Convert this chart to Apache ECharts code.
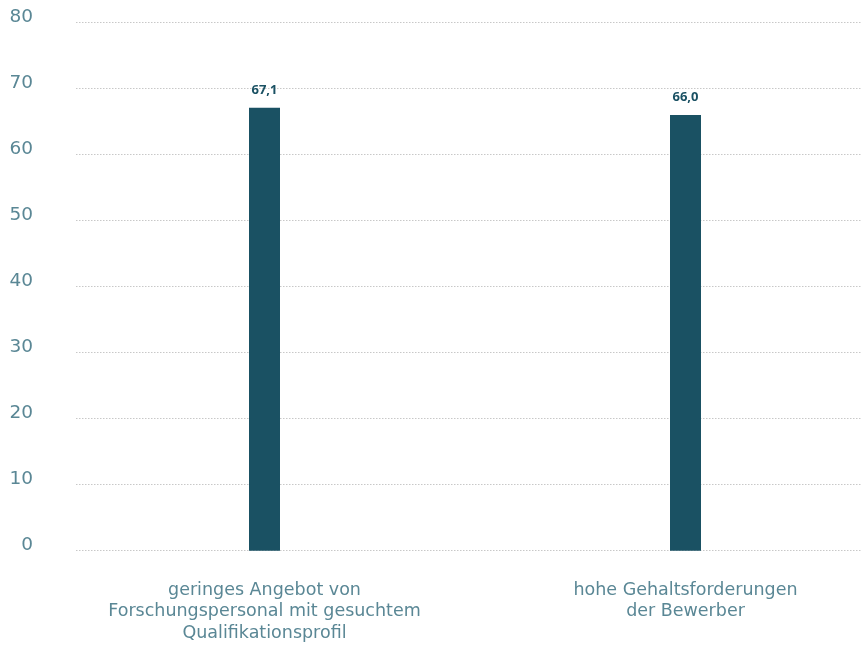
<!DOCTYPE html>
<html>
<head>
<meta charset="utf-8">
<script src="https://cdn.jsdelivr.net/npm/echarts@6/dist/echarts.min.js"></script>
<style>
  html, body { margin: 0; padding: 0; background: #ffffff; }
  #chart { width: 862px; height: 647px; }
</style>
</head>
<body>
<div id="chart"></div>
<script>
// Gründe für Besetzungsprobleme (Anteil in %)
const categories = [
  'geringes Angebot von\nForschungspersonal mit gesuchtem\nQualifikationsprofil',
  'hohe Gehaltsforderungen\nder Bewerber'
];
const values = [67.1, 66.0];
const yTicks = [0, 10, 20, 30, 40, 50, 60, 70, 80];

const barColor = '#1a5163';
const textColor = '#5a8795';
const axisFont = '"DejaVu Sans", "Open Sans", sans-serif';
const valueFont = '"Open Sans", Lato, sans-serif';

const fmt = v => Number(v).toFixed(1).replace('.', ',');

const chart = echarts.init(document.getElementById('chart'), null, { renderer: 'canvas' });
chart.setOption({
  animation: false,
  backgroundColor: '#ffffff',
  grid: [
    // grid carrying the value scale and the dotted guide lines
    { left: 76, right: 0, top: 22.7, bottom: 96.3, containLabel: false, outerBoundsMode: 'none' },
    // grid carrying the bars and the category labels
    { left: 54, width: 842, top: 22.7, bottom: 96.3, containLabel: false, outerBoundsMode: 'none' }
  ],
  xAxis: [
    { gridIndex: 0, type: 'category', data: categories, show: false },
    {
      gridIndex: 1,
      type: 'category',
      data: categories,
      axisLine: { show: false },
      axisTick: { show: false },
      axisLabel: {
        interval: 0,
        margin: 29,
        color: textColor,
        fontFamily: axisFont,
        fontWeight: 'normal',
        fontSize: 17.5,
        lineHeight: 21.5,
        align: 'center'
      }
    }
  ],
  yAxis: [
    {
      gridIndex: 0,
      type: 'value',
      min: yTicks[0],
      max: yTicks[yTicks.length - 1],
      interval: yTicks[1] - yTicks[0],
      axisLine: { show: false },
      axisTick: { show: false },
      axisLabel: {
        margin: 43,
        color: textColor,
        fontFamily: axisFont,
        fontWeight: 'normal',
        fontSize: 18.5,
        verticalAlign: 'bottom',
        lineHeight: 12
      },
      splitLine: {
        show: true,
        lineStyle: { color: '#c8c8c8', type: [1.5, 1.5], width: 1 }
      }
    },
    {
      gridIndex: 1,
      type: 'value',
      min: yTicks[0],
      max: yTicks[yTicks.length - 1],
      show: false,
      splitLine: { show: false }
    }
  ],
  series: [
    {
      type: 'bar',
      xAxisIndex: 1,
      yAxisIndex: 1,
      data: values,
      barWidth: 31,
      itemStyle: { color: barColor },
      label: {
        show: true,
        position: 'top',
        distance: 11,
        color: barColor,
        fontFamily: valueFont,
        fontWeight: 'bold',
        fontSize: 13,
        formatter: p => fmt(p.value)
      }
    }
  ]
});
</script>
</body>
</html>
